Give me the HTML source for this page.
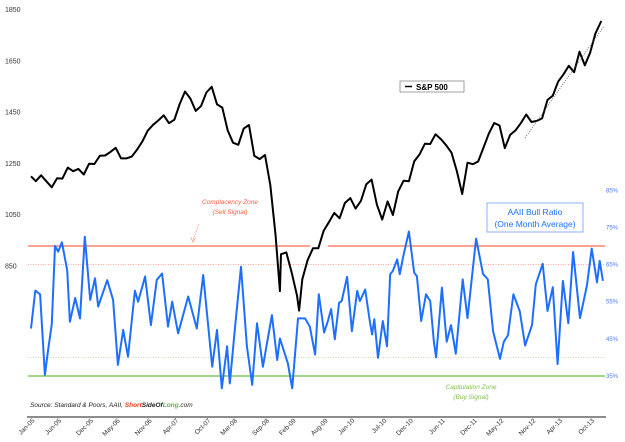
<!DOCTYPE html>
<html><head><meta charset="utf-8"><style>
html,body{margin:0;padding:0;background:#fff;}
svg{display:block;font-family:"Liberation Sans",sans-serif;}
</style></head><body>
<svg id="chart" width="625" height="442" viewBox="0 0 625 442" xmlns="http://www.w3.org/2000/svg">
<rect x="0" y="0" width="625" height="442" fill="#fff"/>
<g id="grid"></g>
<g id="series"></g>
<g id="axes"></g>
<g>
<rect x="400" y="81" width="64" height="11" fill="#fff" stroke="#888" stroke-width="0.8"/>
<line x1="405" y1="86.5" x2="412" y2="86.5" stroke="#000" stroke-width="1.5"/>
<text x="416" y="90" font-size="8" font-weight="bold" fill="#000">S&amp;P 500</text>
</g>
<g>
<rect x="487" y="203" width="96" height="29" fill="#fff" stroke="#8fb0ff" stroke-width="1"/>
<text x="535" y="215" font-size="8.5" fill="#1e6fff" text-anchor="middle">AAII Bull Ratio</text>
<text x="535" y="227" font-size="8.5" fill="#1e6fff" text-anchor="middle">(One Month Average)</text>
</g>
<g>
<text x="230" y="204" font-size="6.5" font-style="italic" fill="#ff5a3c" text-anchor="middle">Complacency Zone</text>
<text x="230" y="214" font-size="6.5" font-style="italic" fill="#ff5a3c" text-anchor="middle">(Sell Signal)</text>
<line x1="199" y1="224" x2="193" y2="240" stroke="#ff8a70" stroke-width="0.7" stroke-dasharray="1.5,1"/>
<path d="M190.5,237 L193,242 L195.5,238" fill="none" stroke="#ff8a70" stroke-width="0.7"/>
</g>
<g>
<text x="471" y="389" font-size="6.5" font-style="italic" fill="#7cc24a" text-anchor="middle">Capitulation Zone</text>
<text x="471" y="399" font-size="6.5" font-style="italic" fill="#7cc24a" text-anchor="middle">(Buy Signal)</text>
</g>
<text x="30" y="407" font-size="6.5" font-style="italic" fill="#222">Source: Standard &amp; Poors, AAII, <tspan fill="#ff3a20" font-weight="bold">Short</tspan><tspan font-weight="bold">SideOf</tspan><tspan fill="#5cb83a" font-weight="bold">Long</tspan>.com</text>
<line x1="525" y1="138" x2="604" y2="26" stroke="#555" stroke-width="0.8" stroke-dasharray="1,1.5"/>
</svg>
<script>
const spxMonths=[0,0.9,1.9,2.9,3.9,4.9,5.9,6.9,7.9,8.9,9.9,10.9,11.9,12.9,13.9,14.9,15.9,16.9,17.9,18.9,19.9,20.9,21.9,22.9,23.9,24.9,25.9,26.9,27.9,28.9,29.9,30.9,31.9,32.9,33.9,34.9,35.9,36.9,37.9,38.9,39.9,40.9,41.9,42.9,43.9,44.9,45.9,46.7,46.9,47.9,48.9,49.9,50.3,50.9,51.9,52.9,53.9,54.9,55.9,56.9,57.9,58.9,59.9,60.9,61.9,62.9,63.9,64.9,65.9,66.9,67.9,68.9,69.9,70.9,71.9,72.9,73.9,74.9,75.9,76.9,77.9,78.9,79.9,80.9,81.9,82.9,83.9,84.9,85.9,86.9,87.9,88.9,89.9,90.9,91.9,92.9,93.9,94.9,95.9,96.9,97.9,98.9,99.9,100.9,101.9,102.9,103.9,104.9,105.9,107];
const spxValues=[1200,1181,1204,1180,1157,1192,1191,1234,1220,1229,1207,1249,1248,1280,1281,1295,1311,1270,1270,1277,1304,1336,1378,1401,1418,1438,1407,1421,1482,1531,1503,1455,1474,1527,1549,1481,1468,1379,1331,1323,1386,1400,1280,1267,1283,1166,969,752,896,903,826,735,676,798,873,919,919,987,1021,1057,1036,1096,1115,1074,1104,1169,1187,1089,1031,1102,1049,1141,1183,1181,1258,1286,1327,1326,1364,1345,1321,1292,1219,1131,1253,1247,1258,1312,1366,1408,1398,1310,1362,1379,1407,1441,1412,1416,1426,1498,1515,1569,1598,1631,1606,1686,1633,1682,1757,1806,1780];
const bullMonths=[0,0.8,1.7,2.6,3.2,3.9,4.5,5.1,5.8,6.8,7.3,8.3,9.2,10.1,11.1,12,12.6,14.3,15.4,16.3,17.3,18.2,19.5,20.1,21.4,22.5,23.6,24.6,25.7,26.5,27.6,29.5,31.1,32.3,34,34.9,35.8,36.8,37.3,38.3,39.4,40.5,41.5,42.4,43.5,45.2,46.2,46.7,48.2,49,50.1,51.4,52.3,53.3,54,55,55.7,56.3,57,57.8,58.3,59.3,60.2,61.2,61.7,62.7,63.6,64,64.4,65.1,66,66.8,67.4,67.9,68.7,69.2,69.8,70.9,71.9,72.4,73.2,74.1,74.9,75.6,76,77.1,78,78.8,79.7,81,81.9,83.5,84.8,85.7,86.7,88,88.7,89.5,90.5,91.7,92.7,94,94.7,96,96.9,97.9,98.8,99.8,100.8,101.7,103,104.3,105.2,106.2,106.7,107.3];
const bullValues=[47.8,58,57,35.3,42,49,70,68.5,71,63.5,49.6,56,50.5,72.5,55.5,61.3,53.7,60.8,55.5,38,47.4,40.2,58,55,61.8,48.7,60.9,62.6,48.3,55,46.5,56.4,47.8,62.2,37.5,47.4,31.7,43,33,48.3,64.4,43,32.6,49.2,37.5,51.4,39.3,45.1,38.4,31.7,50.5,50.5,48.3,40.8,57,46.7,49.8,53,44.9,54.7,55.2,61.7,47.1,57.9,55.2,58.3,49.4,46.2,50.3,39.9,49.8,43,62.4,63.3,66.4,62.4,66.9,73.9,62.8,61.9,49.8,57,55.2,44.2,40,58.8,44.2,48.7,41,61,50.6,72,62.5,61,47,39.6,44.2,46,57,52.4,43.2,48.7,59.7,65.2,52.5,58.9,38.2,60.6,49.2,68.4,50.6,59.3,69.3,60.2,66,60.6];
const leftTicks=[850,1050,1250,1450,1650,1850];
const rightTicks=[35,45,55,65,75,85];
const xTickLabels=["Jan-05","Jun-05","Dec-05","May-06","Nov-06","Apr-07","Oct-07","Mar-08","Sep-08","Feb-09","Aug-09","Jan-10","Jul-10","Dec-10","Jun-11","Dec-11","May-12","Nov-12","Apr-13","Oct-13"];
const xTickMonths=[0,5,11,16,22,27,33,38,44,49,55,60,66,71,77,83,88,94,99,105];

const NS="http://www.w3.org/2000/svg";
const xS=m=>31+m*5.33;
const yL=v=>266-(v-850)*0.2563;
const yR=v=>376-(v-35)*3.714;
function mk(tag,attrs,parent){const e=document.createElementNS(NS,tag);for(const k in attrs)e.setAttribute(k,attrs[k]);parent.appendChild(e);return e;}
const grid=document.getElementById('grid'),series=document.getElementById('series'),axes=document.getElementById('axes');

let l;
l=mk('line',{x1:28,x2:310,y1:yR(70),y2:yR(70),stroke:'#ff6b50','stroke-width':1.3},grid);


l=mk('line',{x1:328,x2:605,y1:yR(70),y2:yR(70),stroke:'#ff6b50','stroke-width':1.3},grid);


l=mk('line',{x1:28,x2:605,y1:yR(65),y2:yR(65),stroke:'#ff9a85','stroke-width':0.8,'stroke-dasharray':'1,1.5'},grid);


l=mk('line',{x1:28,x2:605,y1:yR(40),y2:yR(40),stroke:'#b8d8a0','stroke-width':0.8,'stroke-dasharray':'1,1.5'},grid);


l=mk('line',{x1:28,x2:605,y1:yR(35),y2:yR(35),stroke:'#6cbf40','stroke-width':1.2},grid);



let d='';
bullMonths.forEach((m,i)=>{d+=(i?'L':'M')+xS(m).toFixed(1)+','+yR(bullValues[i]).toFixed(1);});
const bp=mk('path',{d:d,fill:'none',stroke:'#1e6fff','stroke-width':2,'stroke-linejoin':'round'},series);



d='';
spxMonths.forEach((m,i)=>{d+=(i?'L':'M')+xS(m).toFixed(1)+','+yL(spxValues[i]).toFixed(1);});
const sp=mk('path',{d:d,fill:'none',stroke:'#000','stroke-width':2,'stroke-linejoin':'round'},series);



leftTicks.forEach(v=>{const t=mk('text',{x:5,y:yL(v)+2.5,'font-size':7,fill:'#333'},axes);t.textContent=v;

});
rightTicks.forEach(v=>{const t=mk('text',{x:606,y:yR(v)+2,'font-size':6,fill:'#4a7cff'},axes);t.textContent=v+'%';

});
const ax=mk('line',{x1:27,x2:606,y1:417,y2:417,stroke:'#666','stroke-width':1.5},axes);


xTickLabels.forEach((s,i)=>{const x=xS(xTickMonths[i])+4;const t=mk('text',{x:x,y:421,'font-size':6.5,fill:'#333','text-anchor':'end',transform:'rotate(-45 '+x+' 421)'},axes);t.textContent=s;

});
</script>
</body></html>
